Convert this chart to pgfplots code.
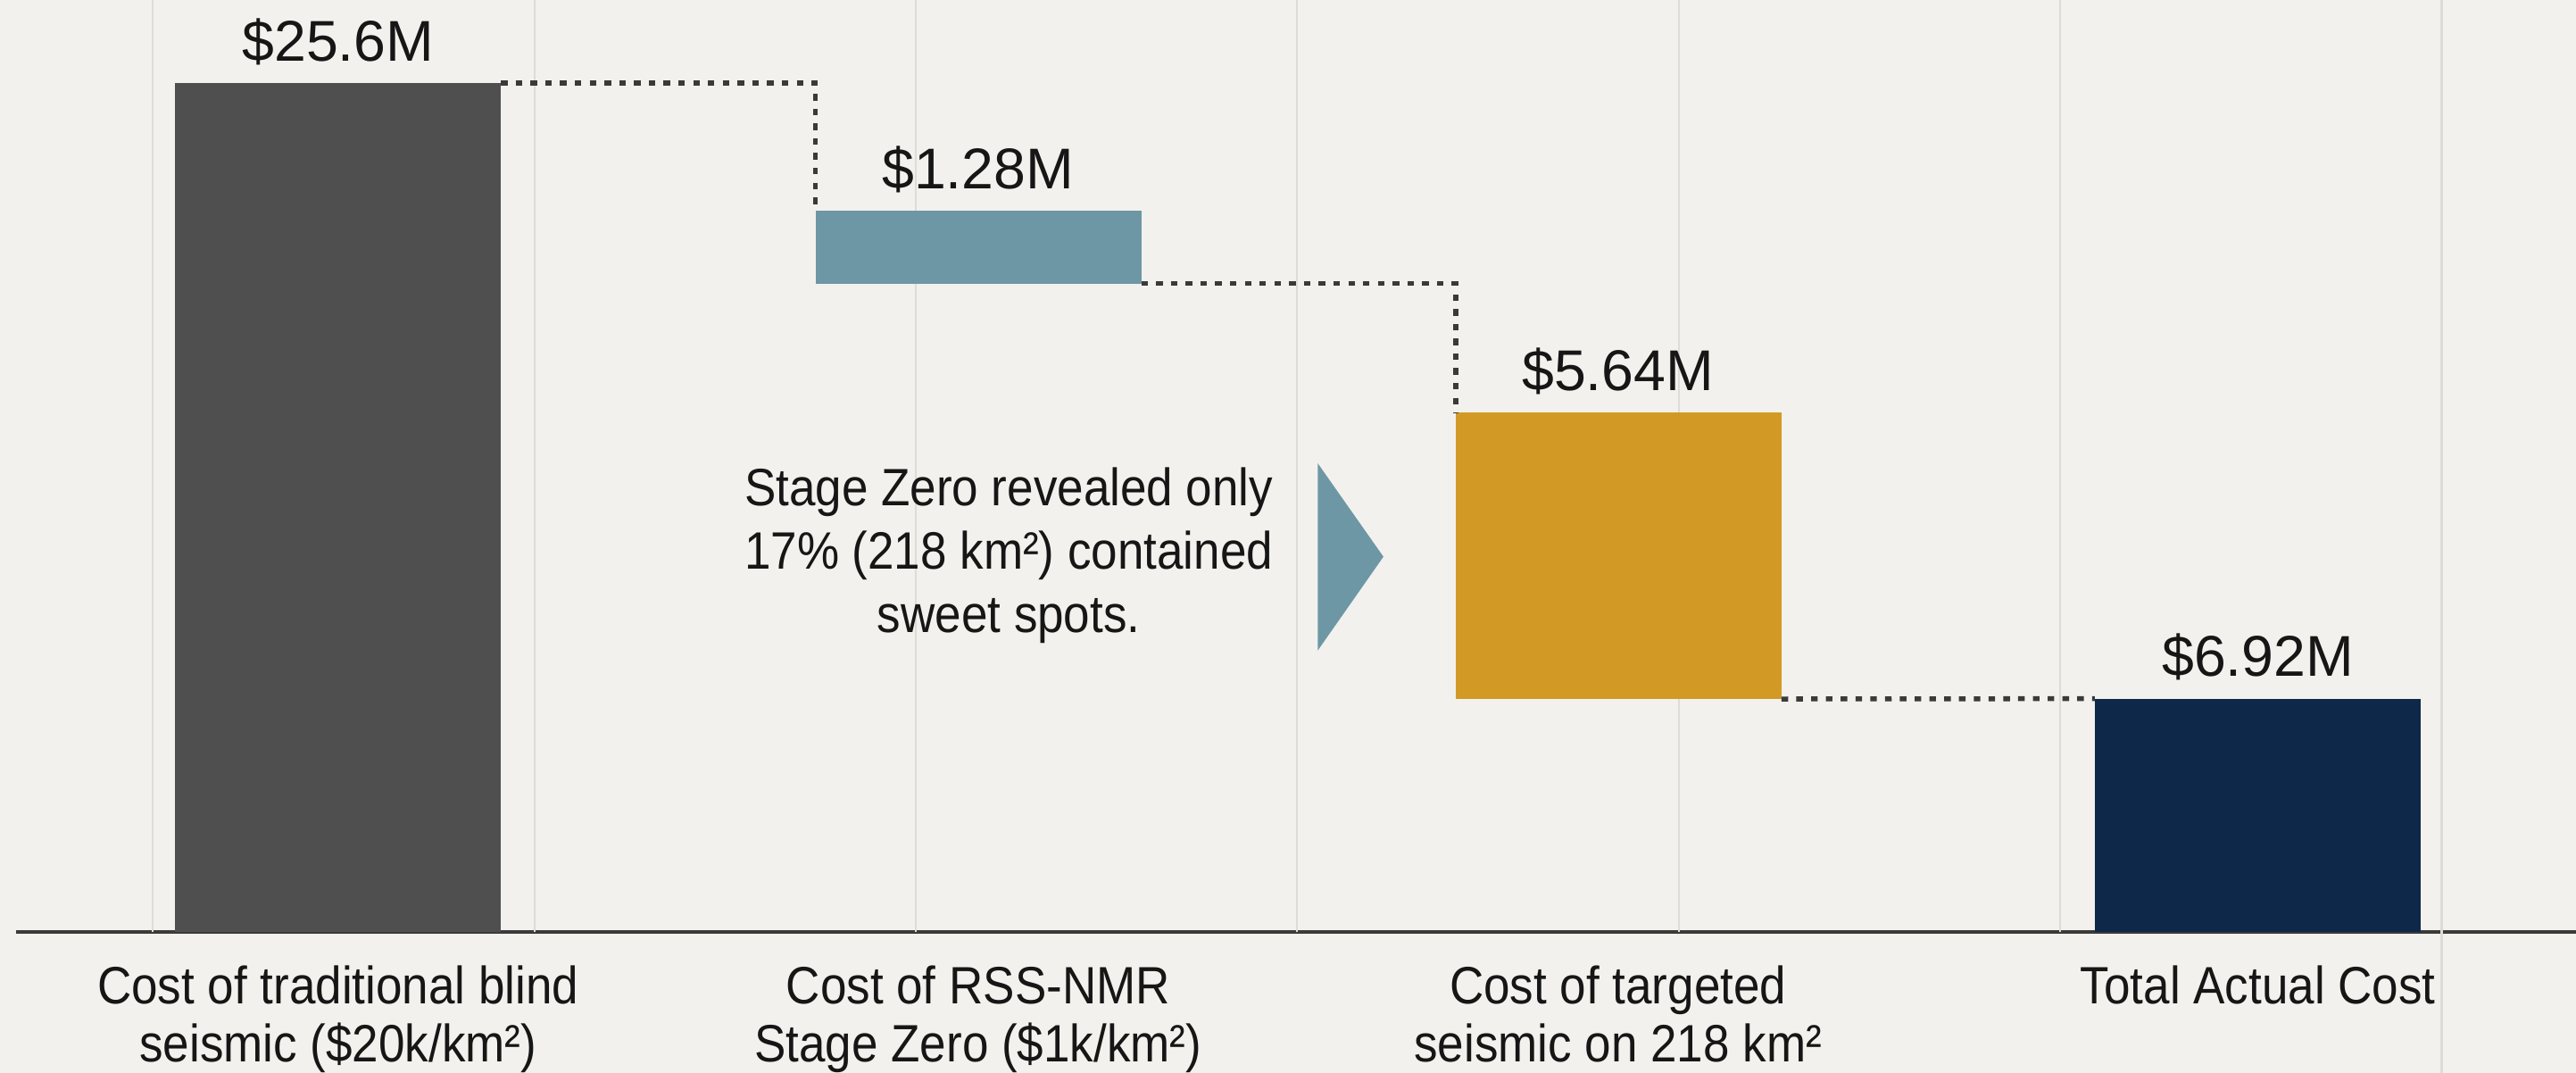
\documentclass[border=0pt]{standalone}
\usepackage{fontspec}
\setmainfont{Liberation Sans}[FakeStretch=0.9]
\newfontfamily\valfont{Liberation Sans}
\usepackage{pgfplots}
\pgfplotsset{compat=1.18}
\usetikzlibrary{backgrounds}
\definecolor{bg}{HTML}{F2F1ED}
\definecolor{gridc}{HTML}{DDDCD7}
\definecolor{basec}{HTML}{3A3A3A}
\definecolor{cA}{HTML}{4F4F4F}
\definecolor{cB}{HTML}{6E97A5}
\definecolor{cC}{HTML}{D29A24}
\definecolor{cD}{HTML}{0D2848}
\definecolor{txt}{HTML}{161616}
\begin{document}
\begin{tikzpicture}
\begin{axis}[name=ax, scale only axis, width=779pt, height=283.65pt,
  xmin=-0.5027, xmax=3.497, ymin=0, ymax=28.11,
  axis x line*=bottom, axis y line=none,
  x axis line style={line width=1.1pt, color=basec, -},
  xtick={0,1,2,3},
  xticklabels={{Cost of traditional blind\\seismic (\$20k/km²)},{Cost of RSS-NMR\\Stage Zero (\$1k/km²)},{Cost of targeted\\seismic on 218 km²},{Total Actual Cost}},
  major tick length=0pt,
  xticklabel style={font=\fontsize{16}{17.7}\selectfont, align=center, anchor=north, inner sep=0pt, yshift=-10pt, text=txt},
  extra x ticks={-0.2896,0.3066,0.9026,1.4987,2.0948,2.6909,3.2870},
  extra x tick labels={},
  extra x tick style={grid=major, major grid style={color=gridc, line width=0.6pt, shorten <=-42.85pt}},
  clip=false,
]
% bars
\addplot[ybar, bar width=0.509, bar shift=0pt, fill=cA, draw=none] coordinates {(0,25.6)};
\addplot[fill=cB, draw=none, mark=none] coordinates {(0.746,19.56) (1.255,19.56) (1.255,21.75) (0.746,21.75)};
\addplot[fill=cC, draw=none, mark=none] coordinates {(1.7465,7.03) (2.2555,7.03) (2.2555,15.66) (1.7465,15.66)};
\addplot[ybar, bar width=0.509, bar shift=0pt, fill=cD, draw=none] coordinates {(3,7.04)};
% connectors
\addplot[mark=none, color=basec, line width=1.5pt, dash pattern=on 2pt off 2.5pt] coordinates {(0.2544,25.6) (0.746,25.6) (0.746,21.75)};
\addplot[mark=none, color=basec, line width=1.5pt, dash pattern=on 2pt off 2.5pt] coordinates {(1.255,19.56) (1.7465,19.56) (1.7465,15.66)};
\addplot[mark=none, color=basec, line width=1.5pt, dash pattern=on 2pt off 2.5pt] coordinates {(2.2555,7.03) (2.745,7.04)};
% triangle
\addplot[fill=cB, draw=none, mark=none] coordinates {(1.5307,14.14) (1.6334,11.32) (1.5307,8.49)};
% value labels
\node[anchor=base, yshift=6.8pt, font=\valfont\fontsize{17.5}{18}\selectfont, text=txt] at (axis cs:0,25.6) {\$25.6M};
\node[anchor=base, yshift=6.8pt, font=\valfont\fontsize{17.5}{18}\selectfont, text=txt] at (axis cs:1,21.75) {\$1.28M};
\node[anchor=base, yshift=6.8pt, font=\valfont\fontsize{17.5}{18}\selectfont, text=txt] at (axis cs:2,15.66) {\$5.64M};
\node[anchor=base, yshift=6.8pt, font=\valfont\fontsize{17.5}{18}\selectfont, text=txt] at (axis cs:3,7.04) {\$6.92M};
% annotation
\node[align=center, anchor=center, inner sep=0pt, font=\fontsize{16}{19.25}\selectfont, text=txt] at (axis cs:1.048,11.36) {Stage Zero revealed only\\17\% (218 km²) contained\\sweet spots.};
\end{axis}
\pgfresetboundingbox
\path[use as bounding box] ([xshift=-5pt,yshift=-42.85pt]ax.south west) rectangle (ax.north east);
\begin{scope}[on background layer]
\fill[bg] ([xshift=-5pt,yshift=-42.85pt]ax.south west) rectangle (ax.north east);
\end{scope}
\end{tikzpicture}
\end{document}
